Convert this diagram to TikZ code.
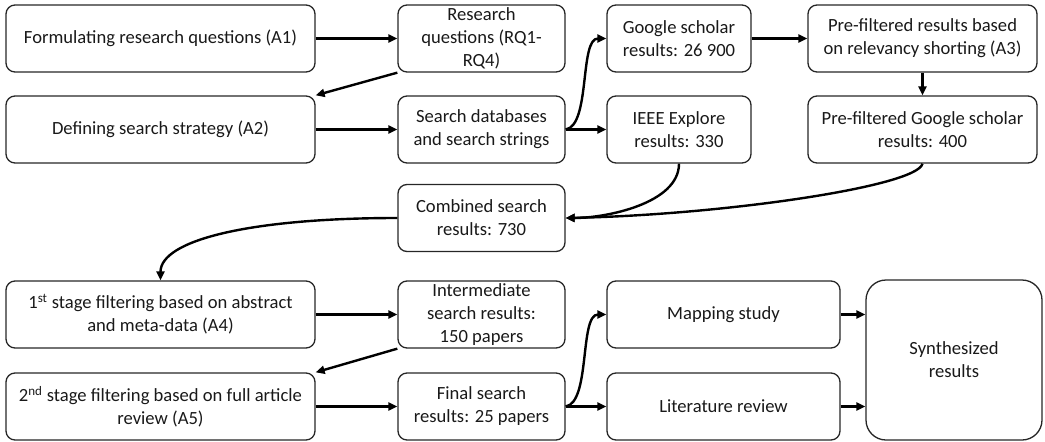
\documentclass[tikz,border=0pt]{standalone}
\usepackage{fontspec}
\setmainfont{Carlito}
\usetikzlibrary{arrows.meta,calc}
\begin{document}
\begin{tikzpicture}[x=1pt,y=-1pt,
  box/.style={draw=black!85, rounded corners=9pt, line width=1.3pt, align=center, inner sep=0pt,
    font=\fontsize{18.6}{23}\selectfont, text=black!90},
  wbox/.style={box, minimum width=309pt, minimum height=67pt},
  sbox/.style={box, minimum width=167pt, minimum height=67pt},
  gbox/.style={box, minimum width=144pt, minimum height=67pt},
  pbox/.style={box, minimum width=229pt, minimum height=67pt},
  mbox/.style={box, minimum width=233pt, minimum height=67pt},
  bigbox/.style={box, rounded corners=20pt, minimum width=176pt, minimum height=160pt},
  conn/.style={line width=2.4pt, draw=black, -{Triangle[length=9pt,width=8pt]}}
]
\useasboundingbox (0,0) rectangle (1045,442);

\node[wbox] (A1) at (160.5,38.5) {Formulating research questions (A1)};
\node[sbox] (RQ) at (481.5,38.5) {Research\\questions (RQ1-\\RQ4)};
\node[gbox] (GS) at (679,38.5) {Google scholar\\results: 26 900};
\node[pbox] (A3) at (922.5,38.5) {Pre-filtered results based\\on relevancy shorting (A3)};

\node[wbox] (A2) at (160.5,129.5) {Defining search strategy (A2)};
\node[sbox] (SD) at (481.5,129.5) {Search databases\\and search strings};
\node[gbox] (IE) at (679,129.5) {IEEE Explore\\results: 330};
\node[pbox] (PG) at (922.5,129.5) {Pre-filtered Google scholar\\results: 400};

\node[sbox] (CS) at (481.5,218) {Combined search\\results: 730};

\node[wbox] (A4) at (160.5,314.5) {1\textsuperscript{st} stage filtering based on abstract\\and meta-data (A4)};
\node[sbox] (IM) at (481.5,314.5) {Intermediate\\search results:\\150 papers};
\node[mbox] (MS) at (723.5,314.5) {Mapping study};

\node[wbox] (A5) at (160.5,406.5) {2\textsuperscript{nd} stage filtering based on full article\\review (A5)};
\node[sbox] (FN) at (481.5,406.5) {Final search\\results: 25 papers};
\node[mbox] (LR) at (723.5,406.5) {Literature review};

\node[bigbox] (SR) at (954,360) {Synthesized\\results};

\draw[conn] (A1.east) -- (RQ.west);
\draw[conn] (RQ.south west) -- (A2.north east);
\draw[conn] (A2.east) -- (SD.west);
\draw[conn] (SD.east) .. controls +(25,-4) and +(-27,0) .. (GS.west);
\draw[conn] (SD.east) -- (IE.west);
\draw[conn] (GS.east) -- (A3.west);
\draw[conn] (A3.south) -- (PG.north);
\draw[conn] (IE.south) .. controls +(0,40) and +(40,0) .. (CS.east);
\draw[conn] (PG.south) .. controls +(-5,23) and +(155,-3) .. (CS.east);
\draw[conn] (CS.west) .. controls +(-148,0) and +(0,-40) .. (A4.north);
\draw[conn] (A4.east) -- (IM.west);
\draw[conn] (IM.south west) -- (A5.north east);
\draw[conn] (A5.east) -- (FN.west);
\draw[conn] (FN.east) .. controls +(25,-4) and +(-27,0) .. (MS.west);
\draw[conn] (FN.east) -- (LR.west);
\draw[conn] (MS.east) -- (SR.west |- MS.east);
\draw[conn] (LR.east) -- (SR.west |- LR.east);
\end{tikzpicture}
\end{document}
